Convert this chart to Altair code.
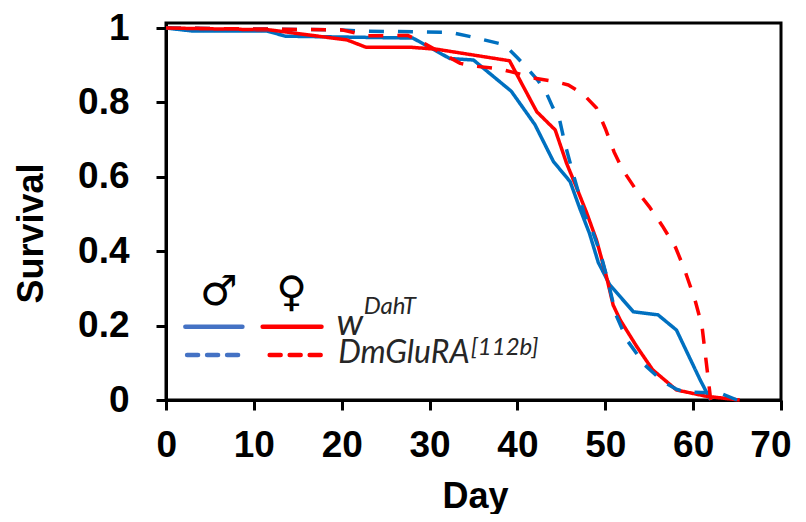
import altair as alt
import pandas as pd

# ---------------- data ----------------
male_w_day = [0, 3, 11.5, 13.6, 28.1, 32.3, 35.0, 39.3, 42.0, 44.1, 46.0, 47.1, 48.2, 49.2, 50.5, 53.2, 56.0, 58.1, 60.8, 61.5, 62]
male_w_surv = [1.0, 0.992, 0.992, 0.978, 0.973, 0.918, 0.914, 0.83, 0.74, 0.641, 0.587, 0.515, 0.448, 0.37, 0.31, 0.237, 0.229, 0.188, 0.054, 0.022, 0.0]

female_w_day = [0, 11.8, 20.6, 22.8, 28.0, 30.8, 39.1, 42.2, 44.3, 45.6, 46.7, 47.9, 49.0, 50.1, 50.9, 51.7, 53.6, 55.4, 58.1, 61.5, 65.3]
female_w_surv = [1.0, 0.995, 0.968, 0.948, 0.948, 0.943, 0.912, 0.775, 0.726, 0.636, 0.573, 0.502, 0.43, 0.335, 0.255, 0.215, 0.143, 0.081, 0.027, 0.01, 0.0]

male_mut_day = [0, 20, 22, 32.5, 35, 38.5, 40, 41, 42.3, 43.3, 44.0, 44.8, 45.4, 46.2, 47.1, 47.6, 48.5, 49.5, 50.3, 51.2, 52.5, 54.5, 56.5, 58, 59, 61, 63, 65]
male_mut_surv = [1.0, 0.995, 0.992, 0.988, 0.975, 0.955, 0.92, 0.895, 0.86, 0.825, 0.788, 0.753, 0.69, 0.62, 0.545, 0.5, 0.457, 0.39, 0.32, 0.23, 0.16, 0.094, 0.051, 0.03, 0.022, 0.02, 0.019, 0.0]

female_mut_day = [0, 20, 23, 27.5, 28.7, 30.8, 33.5, 35, 38, 40, 42, 44.5, 45.8, 47.5, 49, 50, 51, 52, 53.5, 55, 56.5, 58, 59, 60.2, 61, 61.5, 62]
female_mut_surv = [1.0, 0.995, 0.979, 0.98, 0.968, 0.94, 0.905, 0.898, 0.89, 0.878, 0.865, 0.855, 0.847, 0.822, 0.785, 0.73, 0.667, 0.618, 0.565, 0.52, 0.468, 0.41, 0.352, 0.27, 0.2, 0.1, 0.0]

x_ticks = [0, 10, 20, 30, 40, 50, 60, 70]
y_ticks = [0, 0.2, 0.4, 0.6, 0.8, 1.0]

sex_symbols = ["\u2642", "\u2640"]
genotype_labels = ["w", "DmGluRA"]
genotype_supers = ["DahT", "[112b]"]

# ---------------- styles / layout ----------------
BLUE = "#0070C0"
LEG_BLUE = "#4472C4"
RED = "#FF0000"
TXT = "#262626"

series = [
    (male_w_day, male_w_surv, BLUE, [1, 0]),
    (female_w_day, female_w_surv, RED, [1, 0]),
    (male_mut_day, male_mut_surv, BLUE, [15, 14]),
    (female_mut_day, female_mut_surv, RED, [15, 14]),
]

xs = alt.Scale(domain=[0, 70], nice=False, zero=False)
ys = alt.Scale(domain=[0, 1.0135], nice=False)

x_enc = alt.X("day:Q", scale=xs, title="Day",
              axis=alt.Axis(values=x_ticks, labelPadding=46, labelBaseline="alphabetic",
                            labelFlush=True, labelFlushOffset=10,
                            titleX=309, titleY=107, titleBaseline="alphabetic", titleAlign="center"))
y_enc = alt.Y("surv:Q", scale=ys, title="Survival",
              axis=alt.Axis(values=y_ticks, format="~g", labelPadding=27, labelFlush=False,
                            titleX=-124, titleY=210, titleAngle=-90,
                            titleBaseline="alphabetic", titleAlign="center"))

layers = []
for i, (d, s, col, dash) in enumerate(series):
    df = pd.DataFrame({"day": d, "surv": s, "idx": range(len(d))})
    layers.append(
        alt.Chart(df).mark_line(color=col, strokeWidth=3.5, strokeDash=dash, strokeJoin="round")
        .encode(x=x_enc, y=y_enc, order="idx:Q")
    )

# legend (placed in data units)
leg_lines = [
    (2.2, 8.7, 0.197, LEG_BLUE, [1, 0]),
    (11.0, 17.7, 0.197, RED, [1, 0]),
    (2.4, 8.6, 0.121, LEG_BLUE, [11, 9]),
    (11.8, 17.9, 0.121, RED, [11, 9]),
]
for x1, x2, yv, col, dash in leg_lines:
    ldf = pd.DataFrame({"x": [x1], "x2": [x2], "y": [yv]})
    layers.append(
        alt.Chart(ldf).mark_rule(color=col, strokeWidth=4.5, strokeDash=dash, strokeCap="round")
        .encode(x=alt.X("x:Q", scale=xs), x2="x2:Q", y=alt.Y("y:Q", scale=ys))
    )

sym_df = pd.DataFrame({"x": [6.0, 14.3], "y": [0.29, 0.288], "t": sex_symbols})
layers.append(
    alt.Chart(sym_df).mark_text(font="DejaVu Sans", fontSize=42, color="black",
                                align="center", baseline="middle")
    .encode(x=alt.X("x:Q", scale=xs), y=alt.Y("y:Q", scale=ys), text="t:N")
)

lab_df = pd.DataFrame({"x": [19.4, 19.6], "y": [0.175, 0.1], "t": genotype_labels, "fs": [37, 32]})
layers.append(
    alt.Chart(lab_df).mark_text(font="Lato", fontStyle="italic", color=TXT,
                                align="left", baseline="alphabetic")
    .encode(x=alt.X("x:Q", scale=xs), y=alt.Y("y:Q", scale=ys), text="t:N",
            size=alt.Size("fs:Q", scale=None, legend=None))
)
sup_df = pd.DataFrame({"x": [22.5, 34.7], "y": [0.23, 0.121], "t": genotype_supers})
layers.append(
    alt.Chart(sup_df).mark_text(font="Lato", fontStyle="italic", fontSize=24, color=TXT,
                                align="left", baseline="alphabetic")
    .encode(x=alt.X("x:Q", scale=xs), y=alt.Y("y:Q", scale=ys), text="t:N")
)

chart = (
    alt.layer(*layers)
    .properties(width=615, height=377, autosize=alt.AutoSizeParams(type="none"),
                padding={"left": 158, "top": 15, "right": 15, "bottom": 114})
    .configure_view(stroke="black", strokeWidth=3)
    .configure_axis(grid=False, domainColor="black", domainWidth=3, tickColor="black",
                    tickWidth=3, tickSize=10, labelFont="Liberation Sans", labelFontWeight="bold",
                    labelFontSize=37, labelColor="black", titleFont="Liberation Sans",
                    titleFontWeight="bold", titleFontSize=36, titleColor="black")
)

chart.save("out.html", embed_options={"renderer": "svg", "actions": False})
